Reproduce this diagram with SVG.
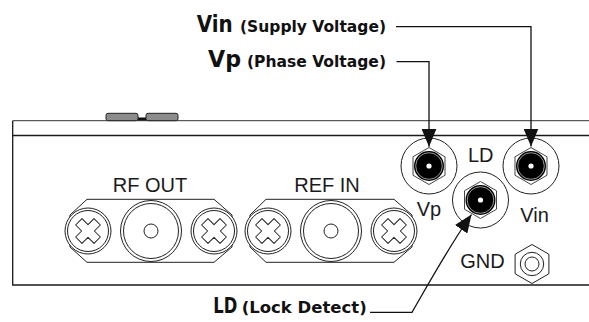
<svg xmlns="http://www.w3.org/2000/svg" xmlns:xlink="http://www.w3.org/1999/xlink" width="589" height="322" viewBox="0 0 589 322">
<style>
.ln{fill:none;stroke:#1a1a1a;stroke-width:1.3}
.thin{fill:none;stroke:#333;stroke-width:1}
.lbl{font-family:"Liberation Sans",Arial,sans-serif;font-size:20px;fill:#1a1a1a}
.big{font-family:"DejaVu Sans","Liberation Sans",sans-serif;font-weight:bold;fill:#111}
.conn{fill:none;stroke:#111;stroke-width:1.3}
</style>
<defs>
<marker id="arr" markerUnits="userSpaceOnUse" markerWidth="18" markerHeight="15" refX="18" refY="7.5" orient="auto">
<path d="M0,0 L18,7.5 L0,15 Z" fill="#111"/>
</marker>
<g id="screw">
<circle r="23" fill="#fff" stroke="#222" stroke-width="1"/>
<circle r="20.5" fill="none" stroke="#222" stroke-width="1"/>
<polygon transform="rotate(45)" points="-4.5,-13 4.5,-13 4.5,-4.5 13,-4.5 13,4.5 4.5,4.5 4.5,13 -4.5,13 -4.5,4.5 -13,4.5 -13,-4.5 -4.5,-4.5" fill="#fff" stroke="#222" stroke-width="1" stroke-linejoin="round"/>
</g>
<g id="sma">
<circle r="30.5" fill="#fff" stroke="#222" stroke-width="1"/>
<circle r="27.5" fill="none" stroke="#222" stroke-width="1"/>
<circle r="7" fill="none" stroke="#222" stroke-width="1"/>
</g>
<g id="jack">
<circle r="28" fill="#fff" stroke="#222" stroke-width="1"/>
<polygon points="0,-18.5 16,-9.25 16,9.25 0,18.5 -16,9.25 -16,-9.25" fill="#fff" stroke="#444" stroke-width="1"/>
<circle r="15" fill="#000"/>
<circle r="13.3" fill="none" stroke="#fff" stroke-width="0.6"/>
<circle r="2.6" fill="#fff"/>
</g>
</defs>

<g id="box">
<rect x="106" y="113.3" width="32" height="7.4" rx="2" fill="#8c8c8c" stroke="#222" stroke-width="1"/>
<rect x="146" y="113.3" width="32" height="7.4" rx="2" fill="#8c8c8c" stroke="#222" stroke-width="1"/>
<rect x="138" y="117.5" width="8" height="3.2" fill="#111"/>
<path class="thin" d="M12.7,120.7 H589"/>
<path class="ln" d="M12.7,135.5 H589"/>
<path class="ln" d="M12.7,120.7 V285 H589"/>
</g>

<g id="rf-out">
<polygon points="87,199.3 214,199.3 232,215 232,247 214,262.3 87,262.3 70,247 70,215" fill="#fff" stroke="#222" stroke-width="1"/>
<use xlink:href="#screw" x="88" y="231"/>
<use xlink:href="#sma" x="151" y="231"/>
<use xlink:href="#screw" x="214" y="231"/>
<text class="lbl" x="150" y="192" text-anchor="middle">RF OUT</text>
</g>

<g id="ref-in">
<polygon points="266,199.3 394,199.3 412,215 412,247 394,262.3 266,262.3 250,247 250,215" fill="#fff" stroke="#222" stroke-width="1"/>
<use xlink:href="#screw" x="268" y="231"/>
<use xlink:href="#sma" x="331" y="231"/>
<use xlink:href="#screw" x="394" y="231"/>
<text class="lbl" x="327" y="192" text-anchor="middle">REF IN</text>
</g>

<g id="vp">
<use xlink:href="#jack" x="429" y="166"/>
<text class="lbl" x="429" y="215.5" text-anchor="middle">Vp</text>
</g>

<g id="vin">
<use xlink:href="#jack" x="531" y="166"/>
<text class="lbl" x="534.5" y="221.7" text-anchor="middle">Vin</text>
</g>

<g id="ld">
<use xlink:href="#jack" x="480.5" y="200"/>
<text class="lbl" x="480.7" y="161.7" text-anchor="middle">LD</text>
</g>

<g id="gnd">
<polygon points="532,244.5 548.9,254.25 548.9,273.75 532,283.5 515.1,273.75 515.1,254.25" fill="#fff" stroke="#222" stroke-width="1"/>
<circle cx="532" cy="264" r="11.7" fill="none" stroke="#222" stroke-width="1"/>
<circle cx="532" cy="264" r="7" fill="none" stroke="#222" stroke-width="1"/>
<text class="lbl" x="482.5" y="267.7" text-anchor="middle">GND</text>
</g>

<g id="label-vin">
<text class="big" x="196.7" y="31.8" font-size="23" textLength="36" lengthAdjust="spacingAndGlyphs">Vin</text>
<text class="big" x="240" y="31.8" font-size="16" textLength="146" lengthAdjust="spacingAndGlyphs">(Supply Voltage)</text>
</g>
<g id="label-vp">
<text class="big" x="208" y="67" font-size="23" textLength="33" lengthAdjust="spacingAndGlyphs">Vp</text>
<text class="big" x="247" y="67" font-size="16" textLength="139" lengthAdjust="spacingAndGlyphs">(Phase Voltage)</text>
</g>
<g id="label-ld">
<text class="big" x="213.3" y="313.3" font-size="21" textLength="24" lengthAdjust="spacingAndGlyphs">LD</text>
<text class="big" x="241.7" y="313.3" font-size="16" textLength="125" lengthAdjust="spacingAndGlyphs">(Lock Detect)</text>
</g>

<g id="connectors">
<path class="conn" d="M396,26.7 H531 V146.5" marker-end="url(#arr)"/>
<path class="conn" d="M396.5,61.7 H429 V146.7" marker-end="url(#arr)"/>
<path class="conn" d="M370,312.3 H412 C425,290 448,248 471.5,214.5" marker-end="url(#arr)"/>
</g>
</svg>
